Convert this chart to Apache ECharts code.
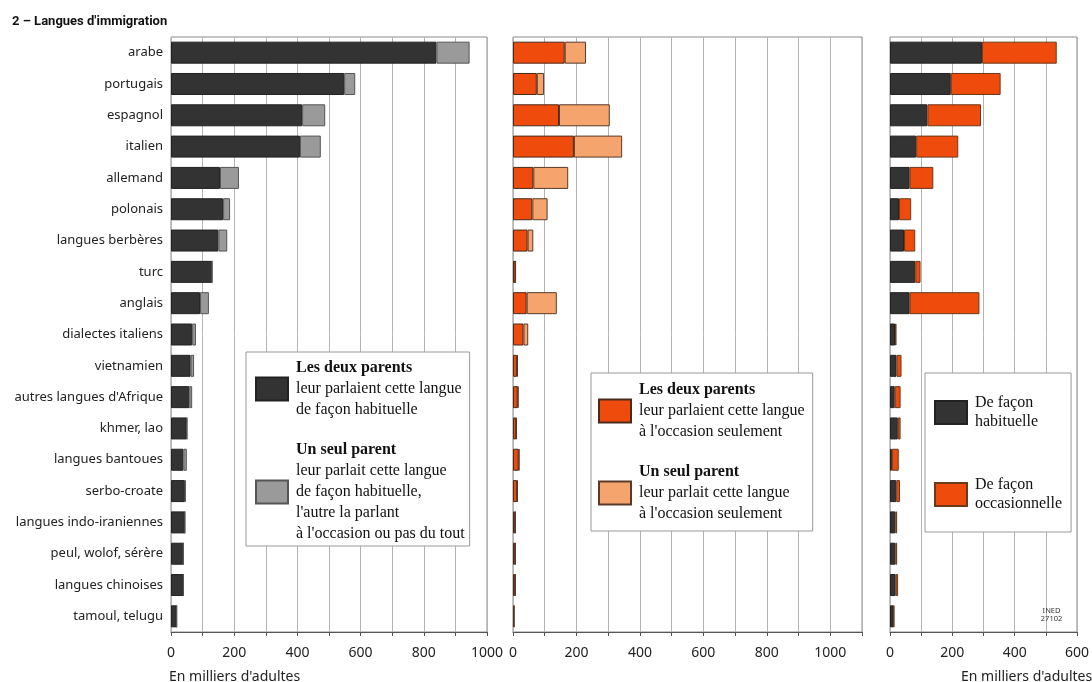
<!DOCTYPE html>
<html><head><meta charset="utf-8">
<script src="https://cdn.jsdelivr.net/npm/echarts@6/dist/echarts.min.js"></script>
<style>html,body{margin:0;padding:0;background:#fff}#c{width:1092px;height:682px}</style>
</head><body><div id="c"></div>
<script>
const categories = ['arabe','portugais','espagnol','italien','allemand','polonais','langues berbères','turc','anglais','dialectes italiens','vietnamien',"autres langues d'Afrique",'khmer, lao','langues bantoues','serbo-croate','langues indo-iraniennes','peul, wolof, sérère','langues chinoises','tamoul, telugu'];
// Panel 1 : parlée de façon habituelle
const deuxParentsHabituelle = [840,548,415,408,155,165,150,130,92,67,62,58,50,39,44,44,39,39,18];
const unParentHabituelle    = [105,35,73,66,60,22,28,0,28,12,11,9,1,11,2,0,0,1,0];
// Panel 2 : parlée à l'occasion seulement
const deuxParentsOccasion = [163,75,145,192,64,61,46,8,43,33,13,15,10,18,13,7,7,7,3];
const unParentOccasion    = [67,23,160,152,110,48,18,0,95,15,2,2,2,2,2,1,1,1,1];
// Panel 3 : transmission
const transHabituelle    = [295,195,120,84,63,29,45,81,63,16,21,15,25,6,20,17,17,18,12];
const transOccasionnelle = [240,160,172,135,76,39,36,17,224,5,16,19,9,22,12,6,6,8,1];
const axisMax = [1000,1100,600];
const labelMax = [1000,1000,600];

const C_DARK='#333333', C_GREY='#9a9a9a', C_OR='#ee4b0c', C_LOR='#f4a46c';
const serif = '"Liberation Serif","DejaVu Serif",serif';
const sans = '"Noto Sans","DejaVu Sans",sans-serif';

const legendText = {
  'p1a':'{b|Les deux parents}\n{n|leur parlaient cette langue}\n{n|de façon habituelle}',
  'p1b':'{b|Un seul parent}\n{n|leur parlait cette langue}\n{n|de façon habituelle,}\n{n|l\'autre la parlant}\n{n|à l\'occasion ou pas du tout}',
  'p2a':'{b|Les deux parents}\n{n|leur parlaient cette langue}\n{n|à l\'occasion seulement}',
  'p2b':'{b|Un seul parent}\n{n|leur parlait cette langue}\n{n|à l\'occasion seulement}',
  'p3a':'{n|De façon}\n{n|habituelle}',
  'p3b':'{n|De façon}\n{n|occasionnelle}'
};
const rich = {
  b:{fontFamily:serif,fontWeight:'bold',fontSize:16,lineHeight:21,color:'#111'},
  n:{fontFamily:serif,fontSize:16,lineHeight:21,color:'#111'}
};
const richR = {
  n:{fontFamily:serif,fontSize:16,lineHeight:19,color:'#111'}
};

const grids = [
  {left:171, top:37, width:316, height:595},
  {left:513, top:37, width:349, height:595},
  {left:890, top:37, width:190, height:595}
].map(g=>Object.assign(g,{show:true,borderColor:'#8a8a8a',borderWidth:1,containLabel:false}));

const xAxes = axisMax.map((m,i)=>({
  type:'value', gridIndex:i, min:0, max:m, interval:100,
  axisLine:{show:true,lineStyle:{color:'#555',width:1}},
  axisTick:{show:true,length:4,lineStyle:{color:'#555'}},
  splitLine:{show:true,lineStyle:{color:'#b4b4b4',width:1}},
  axisLabel:{margin:14,fontFamily:sans,fontSize:14,color:'#222',
    formatter:v=>(v%200===0 && v<=labelMax[i])?String(v):''}
}));
const yAxes = [0,1,2].map(i=>({
  type:'category', gridIndex:i, data:categories, inverse:true,
  axisLine:{show:false}, axisTick:{show:false}, splitLine:{show:false},
  axisLabel:{show:i===0, margin:8, fontFamily:sans, fontSize:13, color:'#222'}
}));

function bar(name,data,idx,stack,color,border){
  return {name, type:'bar', xAxisIndex:idx, yAxisIndex:idx, stack, data,
    barWidth:22, itemStyle:{color, borderColor:border, borderWidth:1},
    emphasis:{disabled:true}};
}
function legendCfg(names,left,top,padding,gap,r){
  return {data:names.map(n=>({name:n,icon:'rect'})), orient:'vertical', left, top, padding, itemGap:gap,
    itemWidth:32, itemHeight:23, borderColor:'#999', borderWidth:1, backgroundColor:'#fff',
    selectedMode:false, formatter:n=>legendText[n], textStyle:{rich:r, padding:[0,0,0,3]}};
}

const option = {
  animation:false,
  title:[
    {text:"2 – Langues d'immigration", left:7, top:10, textStyle:{fontFamily:'"Liberation Sans Narrow",Roboto,sans-serif',fontWeight:'bold',fontSize:13,color:'#111'}},
    {text:"En milliers d'adultes", left:164, top:665, textStyle:{fontFamily:sans,fontWeight:'normal',fontSize:14,color:'#222'}},
    {text:"En milliers d'adultes", left:956, top:665, textStyle:{fontFamily:sans,fontWeight:'normal',fontSize:14,color:'#222'}},
    {text:"INED\n27102", right:14, top:602, textAlign:'center', textStyle:{fontFamily:sans,fontWeight:'normal',fontSize:7.5,lineHeight:8,color:'#333'}}
  ],
  grid:grids, xAxis:xAxes, yAxis:yAxes,
  legend:[
    legendCfg(['p1a','p1b'],246,352,[8,5,4,9],24,rich),
    legendCfg(['p2a','p2b'],591,373,[9,8,9,7],24,rich),
    legendCfg(['p3a','p3b'],925,373,[22,9,20,9],47,richR)
  ],
  series:[
    bar('p1a',deuxParentsHabituelle,0,'s1',C_DARK,'#222'),
    bar('p1b',unParentHabituelle,0,'s1',C_GREY,'#555'),
    bar('p2a',deuxParentsOccasion,1,'s2',C_OR,'#4a2a1a'),
    bar('p2b',unParentOccasion,1,'s2',C_LOR,'#5a3a2a'),
    bar('p3a',transHabituelle,2,'s3',C_DARK,'#222'),
    bar('p3b',transOccasionnelle,2,'s3',C_OR,'#6a3a1a')
  ]
};
const chart = echarts.init(document.getElementById('c'),null,{renderer:'canvas'});
chart.setOption(option);
</script></body></html>
